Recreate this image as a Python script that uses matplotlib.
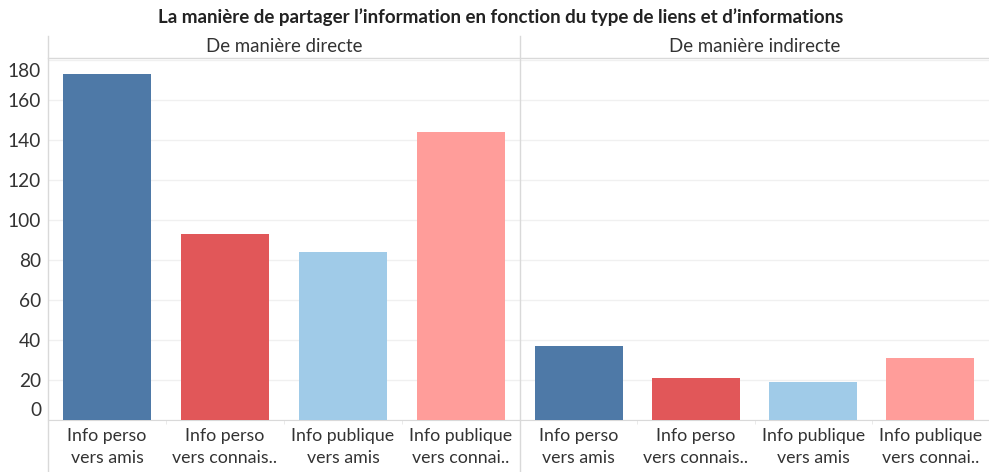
import matplotlib
matplotlib.use('Agg')
import matplotlib.pyplot as plt
import matplotlib.transforms as mtransforms
import numpy as np

plt.rcParams['font.family'] = ['Lato', 'DejaVu Sans']

# data
title = "La manière de partager l’information en fonction du type de liens et d’informations"
panels = ["De manière directe", "De manière indirecte"]
categories = ["Info perso\nvers amis", "Info perso\nvers connais..",
              "Info publique\nvers amis", "Info publique\nvers connai.."]
values_direct = [173, 93, 84, 144]
values_indirect = [37, 21, 19, 31]
colors = ["#4e79a7", "#e15759", "#a0cbe8", "#ff9d9a"]
yticks = [0, 20, 40, 60, 80, 100, 120, 140, 160, 180]

W, H = 989, 472
fig = plt.figure(figsize=(W / 100, H / 100), dpi=100)

left, mid, right = 48, 520, 989
base, top = 419.5, 60
grid_col = "#f0f0f0"
line_col = "#d9d9d9"
txt_col = "#333333"

axes = []
for i, (vals, x0, x1) in enumerate([(values_direct, left, mid), (values_indirect, mid, right)]):
    ax = fig.add_axes([x0 / W, 1 - base / H, (x1 - x0) / W, (base - top) / H])
    x = np.arange(len(categories))
    ax.bar(x, vals, width=0.75, color=colors, zorder=3)
    ax.set_xlim(-0.5, len(categories) - 0.5)
    ax.set_ylim(0, 180)
    ax.set_yticks(yticks)
    ax.yaxis.grid(True, color=grid_col, linewidth=1, zorder=0)
    ax.set_xticks(x)
    ax.set_xticklabels(categories, fontsize=12.8, color=txt_col, linespacing=1.45)
    ax.tick_params(axis='x', length=0, pad=6)
    ax.set_xticks(np.arange(0.5, len(categories) - 1, 1), minor=True)
    ax.tick_params(axis='x', which='minor', length=3, color="#e6e6e6")
    for s in ['top', 'right', 'left']:
        ax.spines[s].set_visible(False)
    ax.spines['bottom'].set_color(line_col)
    if i == 0:
        ax.tick_params(axis='y', length=0, labelsize=13.8, labelcolor=txt_col, pad=5)
        labels = ax.get_yticklabels()
        # keep the edge labels inside the pane like the original
        labels[0].set_transform(labels[0].get_transform() +
                                mtransforms.ScaledTranslation(0, 0.11, fig.dpi_scale_trans))
        labels[-1].set_transform(labels[-1].get_transform() +
                                 mtransforms.ScaledTranslation(0, -0.10, fig.dpi_scale_trans))
    else:
        ax.tick_params(axis='y', length=0, labelleft=False)
    axes.append(ax)

# panel headers
for name, x0, x1 in [(panels[0], left, mid), (panels[1], mid, right)]:
    fig.text((x0 + x1) / 2 / W, 1 - 47 / H, name, ha='center', va='center',
             fontsize=13.4, color=txt_col)

# header separator and panel dividers
fig.add_artist(plt.Line2D([left / W, 1], [1 - 57.5 / H] * 2, color=line_col, lw=1))
for xp in (left, mid):
    fig.add_artist(plt.Line2D([xp / W] * 2, [1 - 36 / H, 0], color=line_col, lw=1))

fig.text(501 / W, 1 - 17 / H, title, ha='center', va='center',
         fontsize=13.5, fontweight='bold', color="#222222")

fig.savefig("out.png", dpi=100, facecolor='white')
